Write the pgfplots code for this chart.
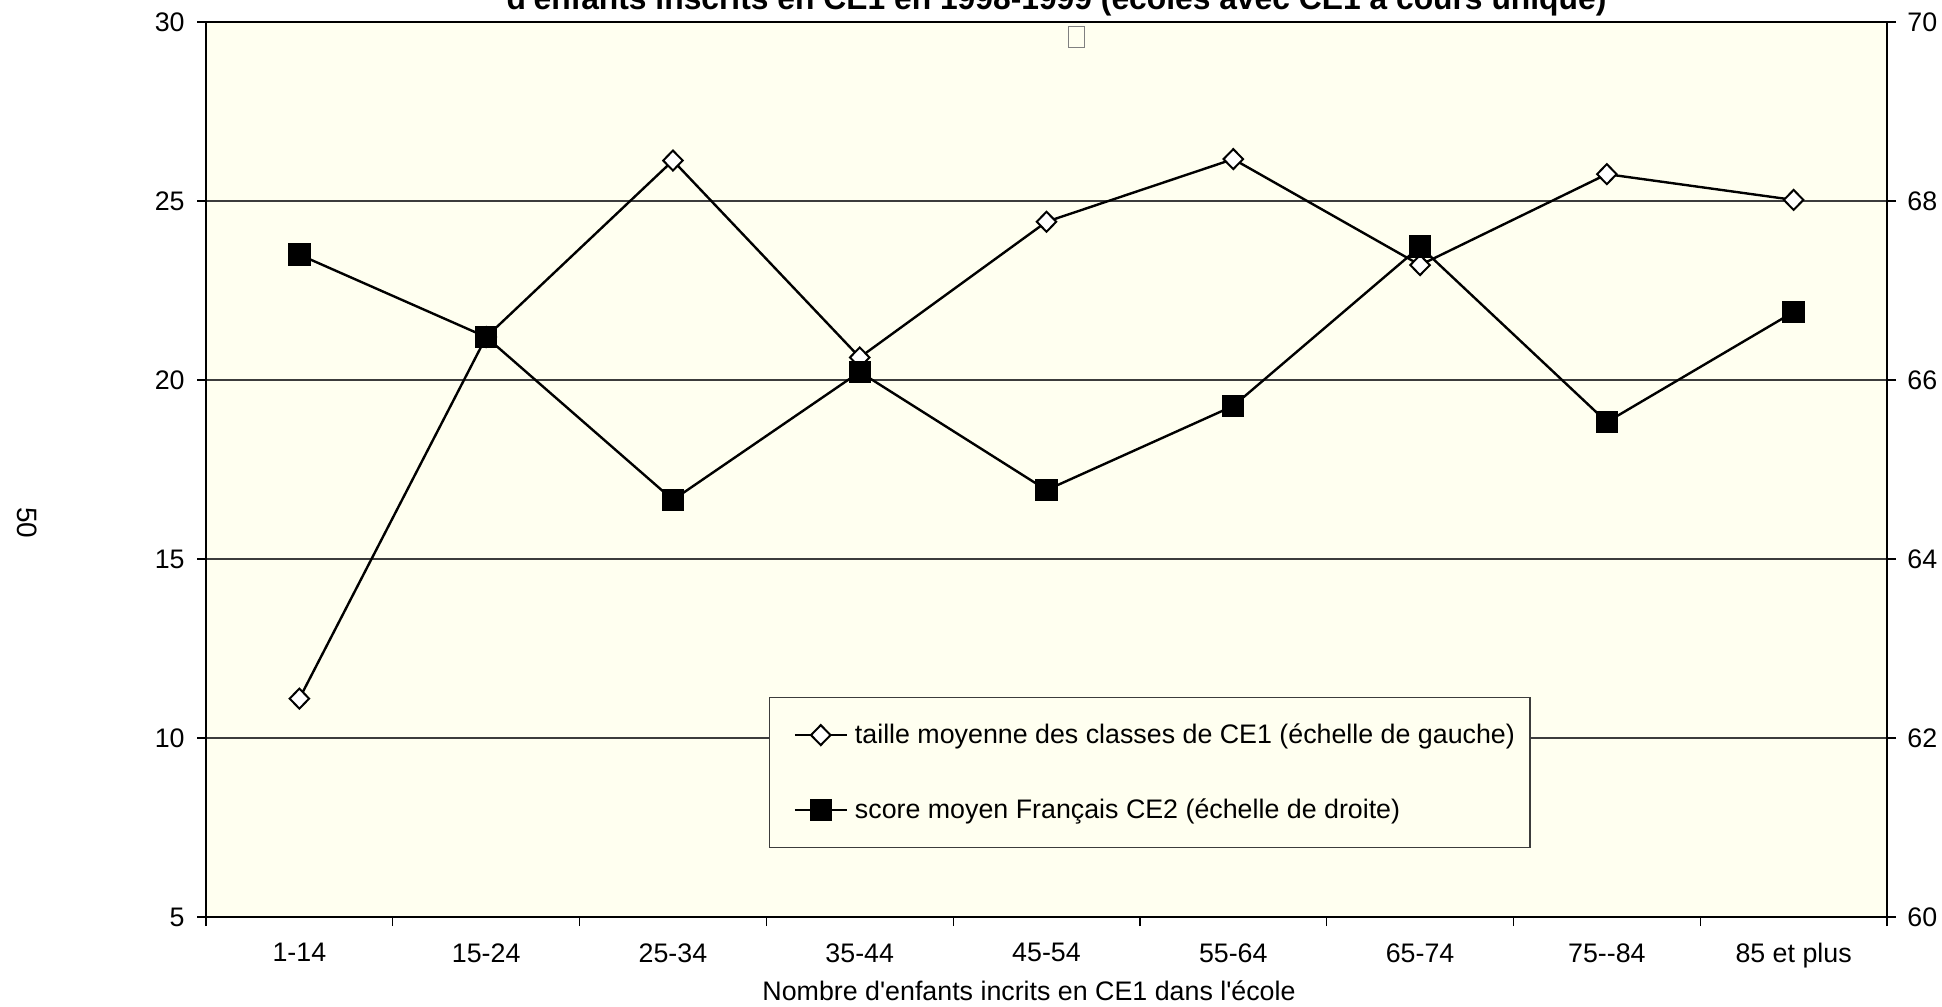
\documentclass[border=0pt]{standalone}
\usepackage{fontspec}
\setmainfont{Liberation Sans}[Ligatures=TeXOff]
\usepackage{pgfplots}
\usepackage{pgfplotstable}
\pgfplotsset{compat=1.18}

\definecolor{plotbg}{RGB}{255,255,240}
\definecolor{gridline}{RGB}{60,60,60}

% taille moyenne des classes de CE1 (echelle de gauche)
\pgfplotstableread{
cat taille
1 11.10
2 21.20
3 26.13
4 20.63
5 24.42
6 26.17
7 23.21
8 25.75
9 25.03
}\tailletab

% score moyen Francais CE2 (echelle de droite)
\pgfplotstableread{
cat score
1 67.40
2 66.48
3 64.66
4 66.09
5 64.77
6 65.71
7 67.49
8 65.53
9 66.76
}\scoretab

\newcommand{\bodyfont}{\fontsize{13.4}{16}\selectfont}

\begin{document}
\begin{tikzpicture}
\pgfplotsset{
  chartframe/.style={
    scale only axis, width=840.5pt, height=447.5pt,
    at={(103pt,44.5pt)}, anchor=south west,
    xmin=0.5, xmax=9.5,
    tick align=outside,
    major tick length=4.5pt, minor tick length=4.5pt,
    tick style={black, line width=0.6pt},
    axis line style={black, line width=1.3pt},
    tick label style={font=\bodyfont},
    /pgf/number format/assume math mode=true,
  },
  taillestyle/.style={black, line width=1.2pt, mark=diamond*, mark size=5pt,
    mark options={fill=white, draw=black, line width=1pt, xscale=1.3}},
  scorestyle/.style={black, line width=1.2pt, mark=square*, mark size=5pt,
    mark options={fill=black, draw=black}},
}
\begin{axis}[chartframe,
  axis background/.style={fill=plotbg},
  ymin=5, ymax=30, ytick={5,10,...,30}, ytick pos=left,
  xtick={1,...,9},
  xticklabels={1-14,15-24,25-34,35-44,45-54,55-64,65-74,75--84,85 et plus},
  minor xtick={0.5,1.5,...,9.5},
  xtick pos=bottom,
  major x tick style={draw=none},
  ymajorgrids, grid style={gridline, line width=0.6pt},
  xlabel={Nombre d'enfants incrits en CE1 dans l'école},
  xlabel style={font=\bodyfont, at={(axis description cs:0.4896,0)}, anchor=base, yshift=-41.7pt},
  yticklabel style={inner sep=0pt, xshift=-6pt},
  xticklabel style={inner sep=0pt, yshift=-8.5pt},
]
\addplot[taillestyle] table[x=cat, y=taille]{\tailletab};
\end{axis}

\begin{axis}[chartframe,
  hide x axis,
  ymin=60, ymax=70, ytick={60,62,...,70}, ytick pos=right, yticklabel pos=right,
  yticklabel style={inner sep=0pt, xshift=5.5pt},
  legend cell align=left,
  legend style={at={(0.3349,0.2458)}, anchor=north west, draw=gridline, line width=0.6pt,
    fill=plotbg, inner xsep=12pt, inner ysep=9.55pt, row sep=19.1pt, column sep=1.5pt,
    font=\bodyfont, nodes={inner sep=2pt, text height=11.4pt, text depth=3pt}},
  legend image code/.code={\draw[mark repeat=2, mark phase=2, #1]
    plot coordinates {(0pt,0pt) (13pt,0pt) (26pt,0pt)};},
]
\addlegendimage{taillestyle}
\addlegendentry{\makebox[323.5pt][l]{taille moyenne des classes de CE1 (échelle de gauche)}}
\addplot[scorestyle] table[x=cat, y=score]{\scoretab};
\addlegendentry{score moyen Français CE2 (échelle de droite)}
\end{axis}

% titre (coupé en haut de page), numéro de page et petit cadre vide
\node[anchor=base, font=\fontsize{15.9}{19}\selectfont\bfseries] at (528.25pt,498pt)
  {d'enfants inscrits en CE1 en 1998-1999 (écoles avec CE1 à cours unique)};
\node[rotate=-90, font=\fontsize{14}{17}\selectfont] at (13.5pt,241.5pt) {50};
\draw[gray, line width=0.5pt, fill=plotbg] (534pt,479pt) rectangle (542pt,489.5pt);

\pgfresetboundingbox
\useasboundingbox (0pt,0pt) rectangle (971pt,503pt);
\end{tikzpicture}
\end{document}
